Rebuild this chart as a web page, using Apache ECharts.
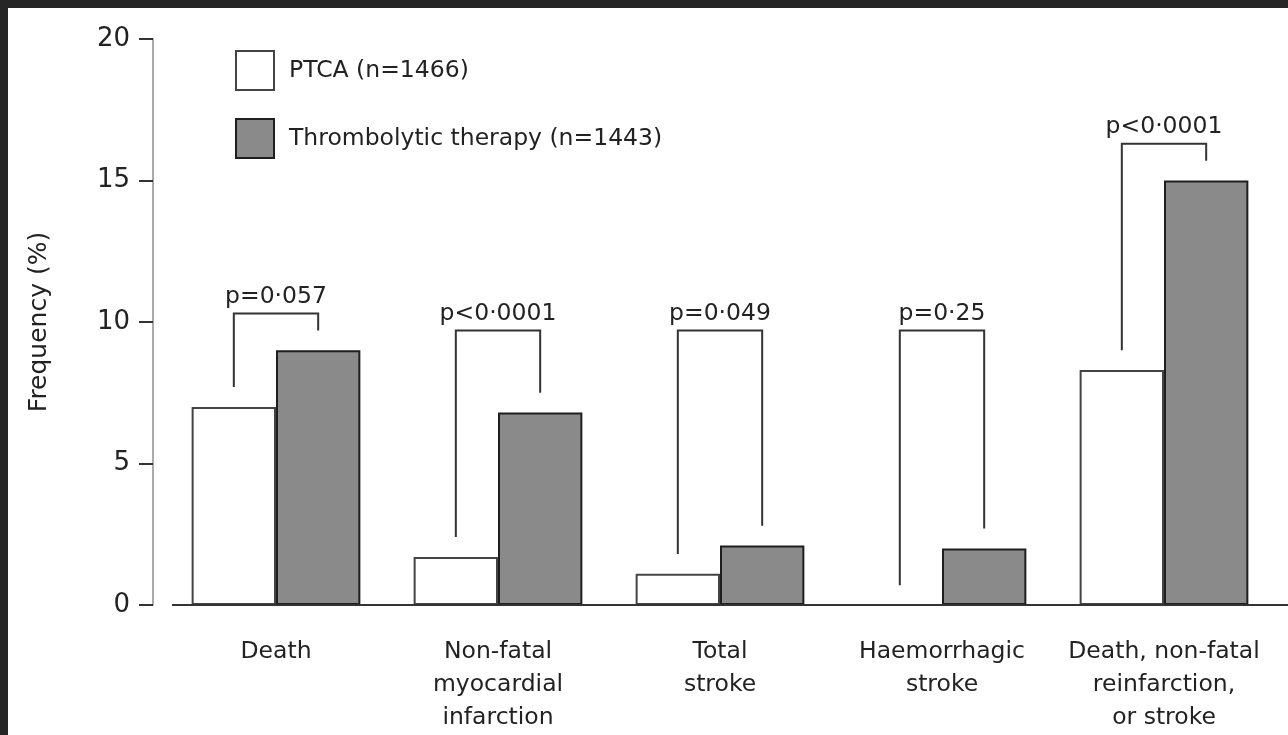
<!DOCTYPE html>
<html>
<head>
<meta charset="utf-8">
<script src="https://cdn.jsdelivr.net/npm/echarts@6/dist/echarts.min.js"></script>
<style>
  html, body { margin: 0; padding: 0; background: #262626; width: 1288px; height: 735px; overflow: hidden; }
  #chart { position: absolute; left: 8px; top: 8px; width: 1280px; height: 727px; background: #ffffff; }
</style>
</head>
<body>
<div id="chart"></div>
<script>
// Outcome categories (x axis)
const categories = [
  'Death',
  'Non-fatal\nmyocardial\ninfarction',
  'Total\nstroke',
  'Haemorrhagic\nstroke',
  'Death, non-fatal\nreinfarction,\nor stroke'
];
// Frequency (%) per group
const ptcaValues = [7.0, 1.7, 1.1, 0.0, 8.3];
const thrombolyticValues = [9.0, 6.8, 2.1, 2.0, 15.0];
// Significance brackets: height of the bracket bar and its label
const bracketTops = [10.3, 9.7, 9.7, 9.7, 16.3];
const pLabels = ['p=0·057', 'p<0·0001', 'p=0·049', 'p=0·25', 'p<0·0001'];
const legGap = 0.7;
// Y-axis ticks
const yTicks = [0, 5, 10, 15, 20];

const seriesNames = ['PTCA (n=1466)', 'Thrombolytic therapy (n=1443)'];
const catGap = 0.24;
const font = '"DejaVu Sans", Verdana, sans-serif';
const textSize = 23.5;

const bracketData = categories.map((c, i) => [
  i, bracketTops[i], ptcaValues[i] + legGap, thrombolyticValues[i] + legGap
]);

const chart = echarts.init(document.getElementById('chart'), null, { width: 1280, height: 727 });

function renderBracket(params, api) {
  const idx = api.value(0);
  const center = api.coord([idx, 0])[0];
  const band = api.size([1, 0])[0];
  const off = band * (1 - catGap) / 4;
  const xl = center - off, xr = center + off;
  const yTop = api.coord([idx, api.value(1)])[1];
  const yL = api.coord([idx, api.value(2)])[1];
  const yR = api.coord([idx, api.value(3)])[1];
  return {
    type: 'group',
    children: [
      {
        type: 'polyline',
        shape: { points: [[xl, yL], [xl, yTop], [xr, yTop], [xr, yR]] },
        style: { stroke: '#333', lineWidth: 2, fill: null }
      },
      {
        type: 'text',
        style: {
          x: center, y: yTop - 5,
          text: pLabels[idx],
          fill: '#222', font: textSize + 'px ' + font,
          textAlign: 'center', textVerticalAlign: 'bottom'
        }
      }
    ]
  };
}

chart.setOption({
  animation: false,
  grid: { left: 157, right: 13, top: 31, height: 566 },
  legend: {
    orient: 'vertical',
    left: 227, top: 42,
    padding: 0,
    itemWidth: 38, itemHeight: 39,
    itemGap: 27,
    selectedMode: false,
    icon: 'rect',
    textStyle: { fontFamily: font, fontSize: textSize, color: '#222', padding: [0, 0, 0, 10] },
    data: seriesNames
  },
  xAxis: {
    type: 'category',
    data: categories,
    axisLine: { show: false },
    axisTick: { show: false },
    axisLabel: {
      interval: 0, margin: 30,
      fontFamily: font, fontSize: textSize, color: '#222', lineHeight: 33
    }
  },
  yAxis: {
    type: 'value',
    min: yTicks[0], max: yTicks[yTicks.length - 1], interval: 5,
    offset: 12,
    name: 'Frequency (%)',
    nameLocation: 'middle',
    nameGap: 101,
    nameRotate: 90,
    nameTextStyle: { fontFamily: font, fontSize: 25, color: '#222' },
    axisLine: { show: true, lineStyle: { color: '#aaa', width: 2 } },
    axisTick: { show: true, length: 14, lineStyle: { color: '#333', width: 2 } },
    axisLabel: { fontFamily: font, fontSize: 26, color: '#222', margin: 23 },
    splitLine: { show: false }
  },
  series: [
    {
      name: seriesNames[0],
      type: 'bar',
      data: ptcaValues,
      barGap: '0%',
      barCategoryGap: (catGap * 100) + '%',
      itemStyle: { color: '#ffffff', borderColor: '#444', borderWidth: 2 }
    },
    {
      name: seriesNames[1],
      type: 'bar',
      data: thrombolyticValues,
      itemStyle: { color: '#8a8a8a', borderColor: '#1e1e1e', borderWidth: 2 }
    },
    {
      type: 'custom',
      renderItem: renderBracket,
      data: bracketData,
      encode: { x: 0, y: [1, 2, 3] },
      silent: true,
      z: 5
    }
  ]
});

// Baseline running along the foot of the bars to the right edge
const y0 = chart.convertToPixel({ yAxisIndex: 0 }, 0);
const gridRect = chart.getModel().getComponent('grid').coordinateSystem.getRect();
chart.setOption({
  graphic: [{
    type: 'line',
    shape: { x1: gridRect.x + 7, y1: y0, x2: chart.getWidth(), y2: y0 },
    style: { stroke: '#333', lineWidth: 2 },
    z: 10
  }]
});
</script>
</body>
</html>
